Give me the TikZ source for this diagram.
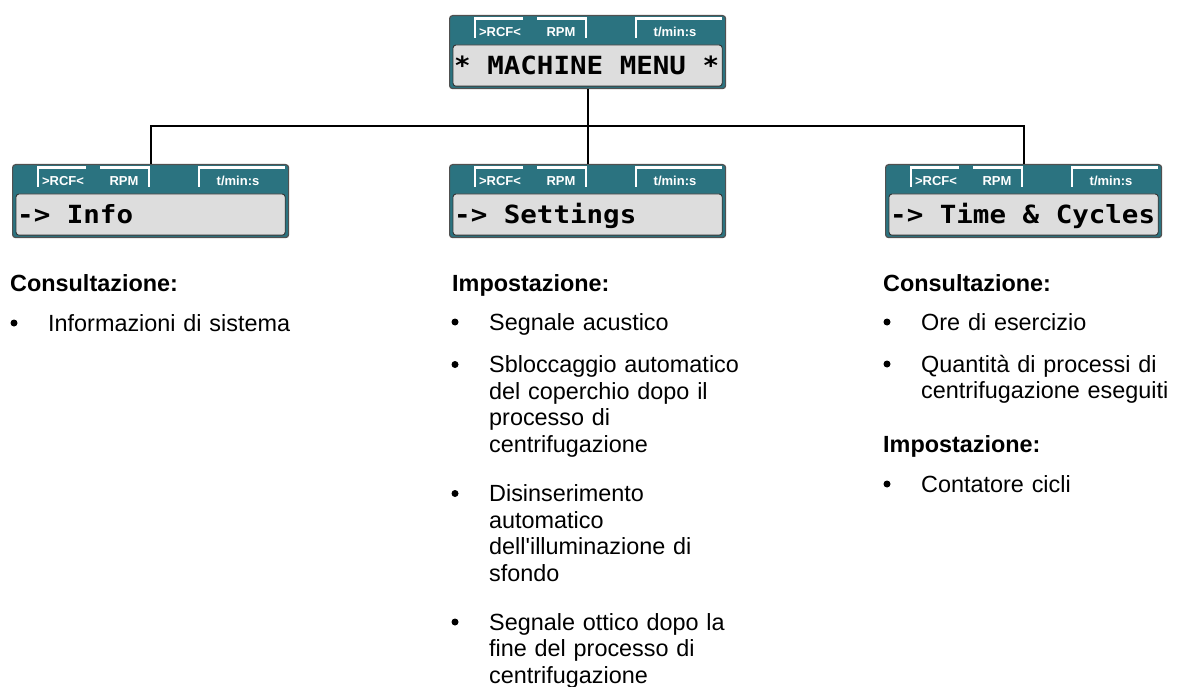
\documentclass[tikz,border=0pt]{standalone}
\usepackage{fontspec}
\setmainfont{Liberation Sans}
\newfontfamily\lcdfont[FakeStretch=1.1]{DejaVu Sans Mono}

\definecolor{panelteal}{RGB}{43,115,128}
\definecolor{lcdgray}{RGB}{221,221,221}
\definecolor{rimgray}{RGB}{80,80,80}

\tikzset{
  panel/.style={rectangle,rounded corners=3pt,fill=panelteal,draw=rimgray,
    line width=1.2pt,minimum width=276pt,minimum height=73pt,inner sep=0pt},
  lcd/.style={fill=lcdgray,draw=black!80,line width=0.9pt,rounded corners=3pt},
  tab/.style={draw=white,line width=2.2pt},
  tablbl/.style={text=white,font=\fontsize{13}{13}\selectfont\bfseries,inner sep=0pt,anchor=base},
  lcdtxt/.style={font=\lcdfont\fontsize{25}{25}\selectfont\bfseries,inner sep=0pt,anchor=base west},
  head/.style={font=\fontsize{23.4}{26.7}\selectfont\bfseries,inner sep=0pt,anchor=base west},
  item/.style={font=\fontsize{23.4}{26.7}\selectfont,inner sep=0pt,anchor=base west,
    align=left,text width=290pt},
  dot/.style={circle,fill=black,inner sep=0pt,minimum size=7pt},
  conn/.style={line width=2pt},
}

% display panel: name, left x, top y, display text
\newcommand{\lcdpanel}[4]{%
  \node[panel,anchor=north west] (#1) at (#2,#3) {};
  \draw[lcd] ([shift={(4,30)}]#1.north west) rectangle ([shift={(-4,-3)}]#1.south east);
  \draw[tab] ([shift={(26,23)}]#1.north west) |- ([shift={(74,3.5)}]#1.north west);
  \draw[tab] ([shift={(88,3.5)}]#1.north west) -| ([shift={(137,23)}]#1.north west);
  \draw[tab] ([shift={(187,23)}]#1.north west) |- ([shift={(273,3.5)}]#1.north west);
  \node[tablbl] (#1-rcf) at ([shift={(51,22)}]#1.north west) {>RCF<};
  \node[tablbl] (#1-rpm) at ([shift={(112,22)}]#1.north west) {RPM};
  \node[tablbl] (#1-time) at ([shift={(226,22)}]#1.north west) {t/min:s};
  \node[lcdtxt] (#1-txt) at ([shift={(5,60)}]#1.north west) {#4};
}

\begin{document}
\begin{tikzpicture}[x=1pt,y=-1pt]
\useasboundingbox (0,0) rectangle (1181,687);
% ---- panels ----
\lcdpanel{menu}{449}{15}{* MACHINE MENU *}
\foreach \nm/\px/\txt in {info/12/{-> Info},settings/449/{-> Settings},times/885/{-> Time \& Cycles}}{
  \lcdpanel{\nm}{\px}{164}{\txt}}
% ---- tree lines ----
\coordinate (hub) at (menu.south |- 0,126);
\draw[conn] (menu.south) -- (hub);
\draw[conn] (hub) -| (info.north);
\draw[conn] (hub) -| (settings.north);
\draw[conn] (hub) -| (times.north);
% ---- left column ----
\node[head] (infohead) at (10,291) {Consultazione:};
\node[dot] (infodot1) at (14,331-8) {};
\node[item] (infoitem1) at (48,331) {Informazioni di sistema};
% ---- middle column ----
\node[head] (sethead) at (452,291) {Impostazione:};
\foreach \n/\y/\txt in {1/330/{Segnale acustico},
    2/372.5/{Sbloccaggio automatico\\del coperchio dopo il\\processo di\\centrifugazione},
    3/501.5/{Disinserimento\\automatico\\dell\textquotesingle illuminazione di\\sfondo},
    4/630/{Segnale ottico dopo la\\fine del processo di\\centrifugazione}}{
  \node[dot] (setdot\n) at (455,\y-8) {};
  \node[item] (setitem\n) at (489,\y) {\txt};}
% ---- right column ----
\node[head] (timehead) at (883,291) {Consultazione:};
\node[dot] (timedot1) at (887,330-8) {};
\node[item] (timeitem1) at (921,330) {Ore di esercizio};
\node[dot] (timedot2) at (887,372-8) {};
\node[item] (timeitem2) at (921,372) {Quantità di processi di\\centrifugazione eseguiti};
\node[head] (cyclehead) at (883,452) {Impostazione:};
\node[dot] (cycledot1) at (887,492-8) {};
\node[item] (cycleitem1) at (921,492) {Contatore cicli};
\end{tikzpicture}
\end{document}
